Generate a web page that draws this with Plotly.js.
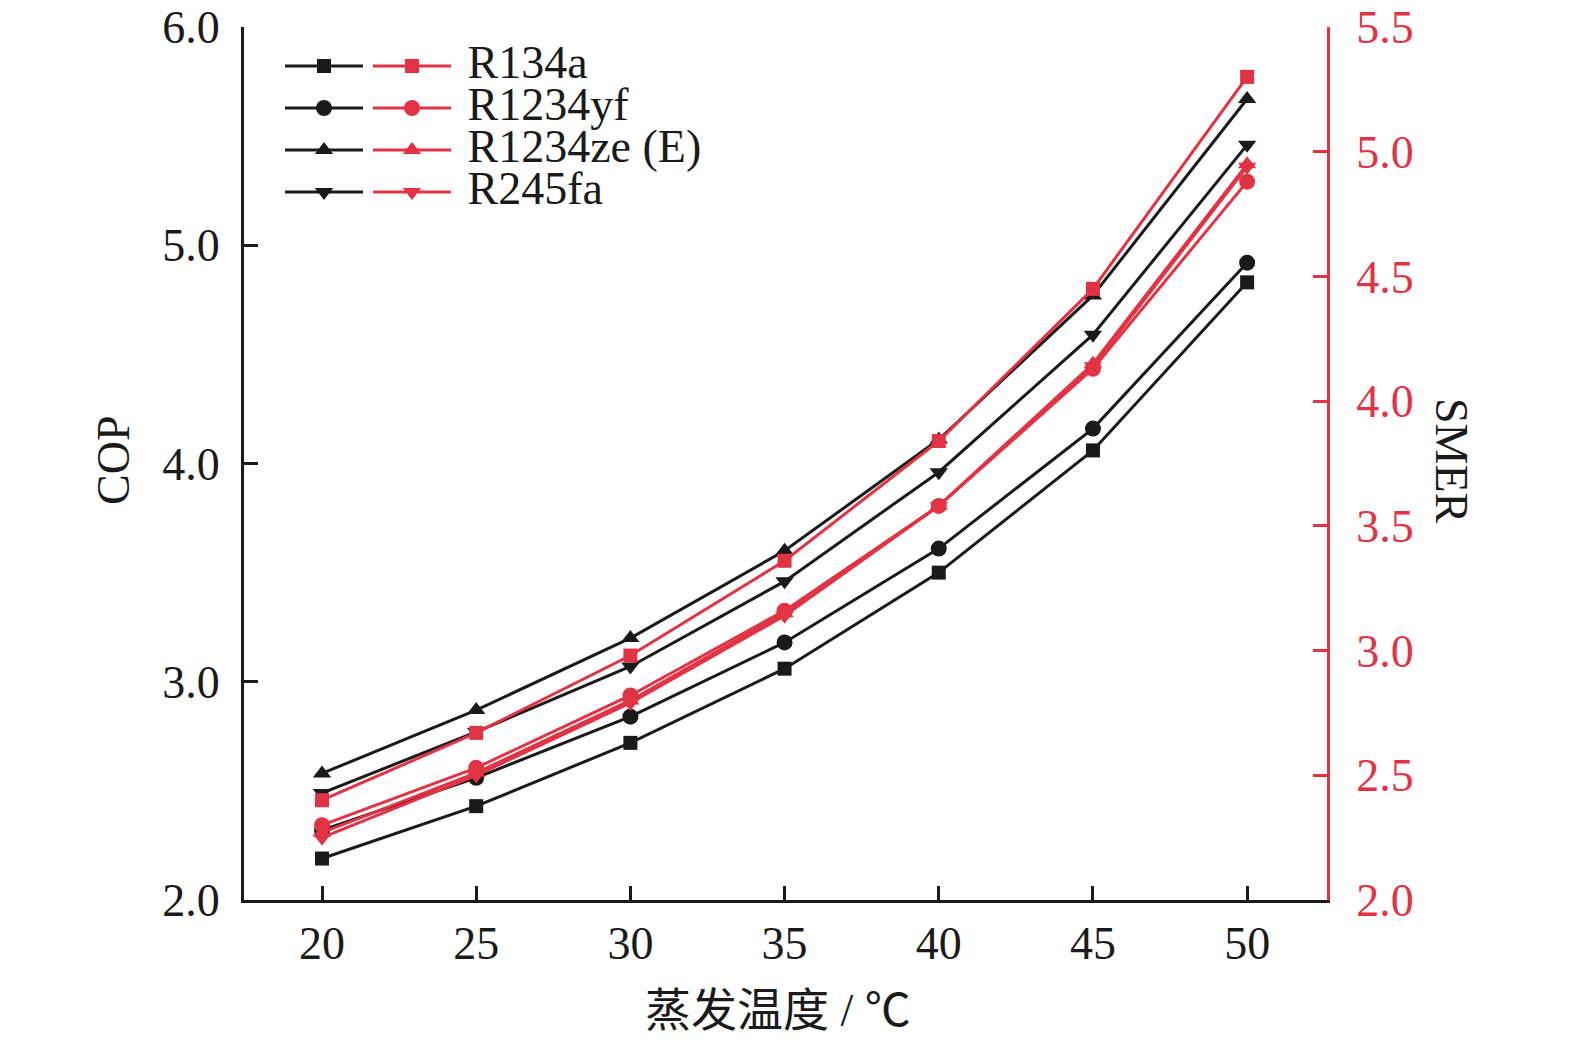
<!DOCTYPE html>
<html>
<head>
<meta charset="utf-8">
<script src="https://cdn.plot.ly/plotly-3.0.1.min.js"></script>
<style>html,body{margin:0;padding:0;background:#fff;}#chart{width:1575px;height:1044px;}</style>
</head>
<body>
<div id="chart"></div>
<script>
// Evaporation temperature (°C)
const temps = [20, 25, 30, 35, 40, 45, 50];
const refrigerants = ['R134a', 'R1234yf', 'R1234ze (E)', 'R245fa'];
// COP (left axis)
const copR134a   = [2.19, 2.43, 2.72, 3.06, 3.50, 4.06, 4.83];
const copR1234yf = [2.32, 2.56, 2.84, 3.18, 3.61, 4.16, 4.92];
const copR1234ze = [2.58, 2.87, 3.20, 3.60, 4.11, 4.77, 5.67];
const copR245fa  = [2.49, 2.77, 3.07, 3.46, 3.96, 4.59, 5.46];
// SMER (right axis)
const smerR134a   = [2.40, 2.67, 2.98, 3.36, 3.84, 4.45, 5.30];
const smerR1234yf = [2.30, 2.53, 2.82, 3.16, 3.58, 4.13, 4.88];
const smerR1234ze = [2.27, 2.51, 2.80, 3.15, 3.58, 4.15, 4.95];
const smerR245fa  = [2.25, 2.50, 2.79, 3.14, 3.58, 4.14, 4.94];
const yTicksCOP = [2, 3, 4, 5, 6];
const yTicksSMER = [2, 2.5, 3, 3.5, 4, 4.5, 5, 5.5];
const xTicks = [20, 25, 30, 35, 40, 45, 50];

const BLACK = '#1a1a1a';
const RED = '#E23344';
const FONT = '"Liberation Serif", "Times New Roman", serif';
const FS = 46;
const symbols = ['square', 'circle', 'triangle-up', 'triangle-down'];
const sizes = [14, 16, 16, 16];
const copSeries = [copR134a, copR1234yf, copR1234ze, copR245fa];
const smerSeries = [smerR134a, smerR1234yf, smerR1234ze, smerR245fa];

const traces = [];
copSeries.forEach((ys, i) => {
  traces.push({
    x: temps, y: ys, type: 'scatter', mode: 'lines+markers',
    name: '', legend: 'legend', yaxis: 'y',
    line: {color: BLACK, width: 3},
    marker: {symbol: symbols[i], size: sizes[i], color: BLACK}
  });
});
smerSeries.forEach((ys, i) => {
  traces.push({
    x: temps, y: ys, type: 'scatter', mode: 'lines+markers',
    name: '<span style="font-size:' + FS + 'px">\u00a0' + refrigerants[i] + '</span>',
    legend: 'legend2', yaxis: 'y2',
    line: {color: RED, width: 3},
    marker: {symbol: symbols[i], size: sizes[i], color: RED}
  });
});

// plot area in pixels: x 244..1327, y 27..900
const PL = 244, PR = 1327, PT = 27, PB = 900;
const px2x = p => (p - PL) / (PR - PL);
const py2y = p => (PB - p) / (PB - PT);

const legendCommon = {
  xref: 'paper', yref: 'paper', xanchor: 'left', yanchor: 'top',
  bgcolor: 'rgba(0,0,0,0)', borderwidth: 0, itemwidth: 78,
  font: {family: FONT, size: 30, color: '#1a1a1a'}, tracegroupgap: 0,
  itemclick: false, itemdoubleclick: false
};

const layout = {
  width: 1575, height: 1044,
  paper_bgcolor: '#fff', plot_bgcolor: '#fff',
  margin: {l: PL, r: 1575 - PR, t: PT, b: 1044 - PB},
  font: {family: FONT, color: BLACK},
  showlegend: true,
  legend: Object.assign({}, legendCommon, {x: px2x(280), y: py2y(40)}),
  legend2: Object.assign({}, legendCommon, {x: px2x(368), y: py2y(40)}),
  xaxis: {
    range: [17.47, 52.59], tickvals: xTicks, ticktext: xTicks.map(String),
    ticks: 'inside', ticklen: 14, tickwidth: 3, tickcolor: BLACK,
    showline: true, linecolor: BLACK, linewidth: 3, showgrid: false, zeroline: false,
    tickfont: {family: FONT, size: FS, color: BLACK}, ticklabelstandoff: 1
  },
  yaxis: {
    range: [2, 6], tickvals: yTicksCOP, ticktext: yTicksCOP.map(v => v.toFixed(1)),
    ticks: 'inside', ticklen: 14, tickwidth: 3, tickcolor: BLACK,
    showline: true, linecolor: BLACK, linewidth: 3, showgrid: false, zeroline: false,
    tickfont: {family: FONT, size: FS, color: BLACK}, ticklabelstandoff: 12
  },
  yaxis2: {
    overlaying: 'y', side: 'right', anchor: 'x',
    range: [2, 5.5], tickvals: yTicksSMER, ticktext: yTicksSMER.map(v => v.toFixed(1)),
    ticks: 'inside', ticklen: 14, tickwidth: 3, tickcolor: RED,
    showline: true, linecolor: RED, linewidth: 3, showgrid: false, zeroline: false,
    tickfont: {family: FONT, size: FS, color: RED}, ticklabelstandoff: 17
  },
  annotations: [
    {
      text: 'COP', textangle: -90, xref: 'paper', yref: 'paper',
      x: 0, y: py2y(461), xanchor: 'center', yanchor: 'middle', xshift: 113 - PL, showarrow: false,
      font: {family: FONT, size: FS, color: BLACK}
    },
    {
      text: 'SMER', textangle: 90, xref: 'paper', yref: 'paper',
      x: 1, y: py2y(461), xanchor: 'center', yanchor: 'middle', xshift: 1452 - PR, showarrow: false,
      font: {family: FONT, size: FS, color: BLACK}
    },
    {
      text: '蒸发温度 / ℃', xref: 'paper', yref: 'paper',
      x: px2x(778), y: 0, xanchor: 'center', yanchor: 'middle', yshift: PB - 1010, showarrow: false,
      font: {family: '"Liberation Serif", "Noto Sans CJK SC", serif', size: FS, color: BLACK}
    }
  ]
};

Plotly.newPlot('chart', traces, layout, {displayModeBar: false, staticPlot: true});
</script>
</body>
</html>
